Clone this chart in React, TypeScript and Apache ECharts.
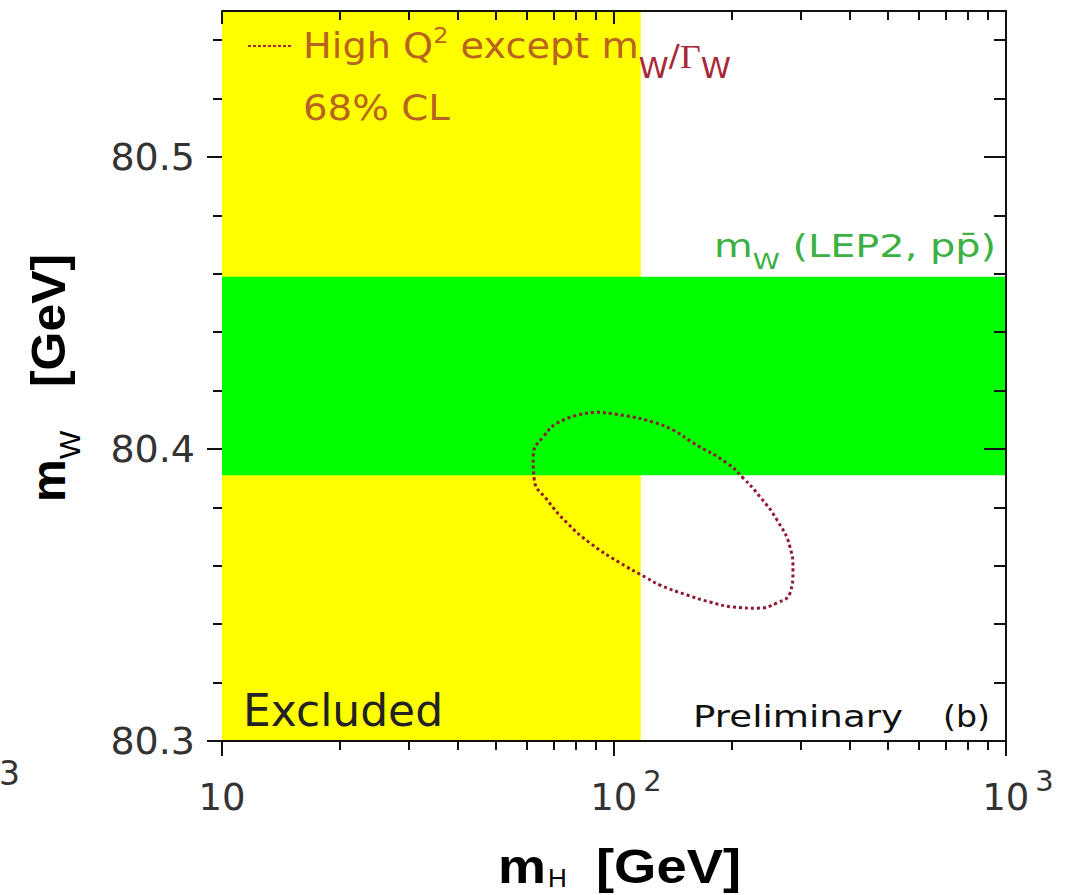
import React, { useEffect, useRef } from 'react';
import * as echarts from 'echarts';

// ---- data ----
const mHRange = [10, 1000];
const mWRange = [80.3, 80.55];
const xMajorTicks = [10, 100, 1000];
const xMinorTicks = [20, 30, 40, 50, 60, 70, 80, 90, 200, 300, 400, 500, 600, 700, 800, 900];
const yMajorTicks = [80.3, 80.4, 80.5];
const yMinorTicks = [80.32, 80.34, 80.36, 80.38, 80.42, 80.44, 80.46, 80.48, 80.52, 80.54];
const excludedMH = [10, 117];
const lep2MW = [80.391, 80.459];
const contourMH = [90.5, 108.0, 125.8, 141.4, 159.1, 194.2, 213.4, 235.8, 260.5, 281.2, 286.1, 281.2, 260.5, 231.7, 201.2, 175.8, 153.6, 131.0, 121.4, 103.6, 86.9, 75.9, 67.5, 62.6, 62.2, 65.9, 74.1, 90.5];
const contourMW = [80.4127, 80.4113, 80.4092, 80.4065, 80.4021, 80.3952, 80.3901, 80.3836, 80.3757, 80.3664, 80.3586, 80.3507, 80.3473, 80.3455, 80.3459, 80.3476, 80.35, 80.3534, 80.3558, 80.361, 80.3678, 80.3747, 80.3826, 80.3895, 80.3973, 80.4041, 80.4099, 80.4127];

const FONT = '"DejaVu Sans"';
const TFONT = '"Liberation Sans"';
const AXIS = '#111';
const LABEL = '#333';
const ORANGE = '#b8641e';
const RED = '#a8283a';
const GREENTXT = '#3cb043';
const CENTRAL = 0.3465;

type Seg = { text: string; size: number; family?: string; weight?: string; dy?: number; color: string };

function fontStr(s: { size: number; family?: string; weight?: string }) {
  return `${s.weight || 'normal'} ${s.size}px ${s.family || FONT}`;
}

export default function App() {
  const ref = useRef<HTMLDivElement>(null);
  useEffect(() => {
    if (!ref.current) return;
    const chart = echarts.init(ref.current, undefined, { renderer: 'svg' });
    const ctx = document.createElement('canvas').getContext('2d')!;
    const measure = (t: string, f: string) => {
      ctx.font = f;
      return ctx.measureText(t).width;
    };
    const line = (x0: number, baseline: number, right: number | null, segs: Seg[]) => {
      const widths = segs.map((s) => measure(s.text, fontStr(s)));
      const total = widths.reduce((a, b) => a + b, 0);
      const sx = right ? (right - x0) / total : 1;
      let cx = x0;
      return segs.map((s, i) => {
        const el = {
          type: 'text',
          x: cx,
          y: baseline + (s.dy || 0) - CENTRAL * s.size,
          scaleX: sx,
          z: 100,
          style: {
            text: s.text,
            font: fontStr(s),
            fill: s.color,
            textAlign: 'left',
            textVerticalAlign: 'middle',
            verticalAlign: 'middle',
          },
        };
        cx += widths[i] * sx;
        return el;
      });
    };
    const rtext = (text: string, x: number, y: number, size: number, weight: string, family: string, sx: number) => ({
      type: 'text',
      x,
      y,
      rotation: Math.PI / 2,
      scaleX: sx,
      z: 100,
      style: { text, font: fontStr({ size, weight, family }), fill: '#000', textAlign: 'left', textVerticalAlign: 'middle', verticalAlign: 'middle' },
    });

    const graphics: any[] = [
      {
        type: 'line',
        z: 100,
        shape: { x1: 248, y1: 46, x2: 293, y2: 46 },
        style: { stroke: RED, lineWidth: 2, lineDash: [3, 2] },
      },
      ...line(303, 58, 731, [
        { text: 'High Q', size: 35, color: ORANGE },
        { text: '2', size: 22, dy: -15, color: ORANGE },
        { text: ' except m', size: 35, color: ORANGE },
        { text: 'W', size: 28, dy: 20, color: RED },
        { text: '/', size: 30, dy: 8, color: RED },
        { text: 'Γ', size: 33, dy: 10, family: '"Liberation Serif"', color: RED },
        { text: 'W', size: 28, dy: 20, color: RED },
      ]),
      ...line(303, 120, 450, [{ text: '68% CL', size: 35, color: ORANGE }]),
      ...line(714, 257, 996, [
        { text: 'm', size: 32, color: GREENTXT },
        { text: 'W', size: 22, dy: 12, color: GREENTXT },
        { text: ' (LEP2, pp\u0304)', size: 32, color: GREENTXT },
      ]),
      ...line(243, 726, 443, [{ text: 'Excluded', size: 44, color: '#222' }]),
      ...line(693, 727, 903, [{ text: 'Preliminary', size: 31, color: '#111' }]),
      ...line(943, 727, 990, [{ text: '(b)', size: 31, color: '#111' }]),
      // bottom axis title
      ...line(498, 883, 546, [{ text: 'm', size: 48, weight: 'bold', family: TFONT, color: '#000' }]),
      ...line(548, 887, null, [{ text: 'H', size: 26, family: TFONT, color: '#000' }]),
      ...line(596, 883, 741, [{ text: '[GeV]', size: 48, weight: 'bold', family: TFONT, color: '#000' }]),
      // left axis title (vertical)
      rtext('m', 48.4, 502, 48, 'bold', TFONT, 1),
      rtext('W', 69.6, 459, 30, 'normal', TFONT, 1),
      rtext('[GeV]', 48.4, 387, 48, 'bold', TFONT, 1.04),
      // clipped exponent from neighbouring panel
      {
        type: 'text',
        x: 20,
        y: 773,
        z: 100,
        style: { text: '3', font: fontStr({ size: 33 }), fill: LABEL, textAlign: 'right', textVerticalAlign: 'middle', verticalAlign: 'middle' },
      },
    ];

    const band = (d: number[], color: string, z: number) => ({
      type: 'custom',
      xAxisIndex: 0,
      yAxisIndex: 0,
      z,
      silent: true,
      encode: { x: [0, 1], y: [2, 3] },
      data: [d],
      renderItem: (_p: any, api: any) => {
        const a = api.coord([api.value(0), api.value(2)]);
        const b = api.coord([api.value(1), api.value(3)]);
        return {
          type: 'rect',
          shape: { x: Math.min(a[0], b[0]), y: Math.min(a[1], b[1]), width: Math.abs(b[0] - a[0]), height: Math.abs(b[1] - a[1]) },
          style: { fill: color },
        };
      },
    });

    const xBase = (position: string, ticks: number[], len: number, inside: boolean, showLine: boolean, labels: boolean) => ({
      type: 'log',
      logBase: 10,
      min: mHRange[0],
      max: mHRange[1],
      position,
      z: 10,
      axisLine: { show: showLine, onZero: false, lineStyle: { color: AXIS, width: 2 } },
      axisTick: { show: true, inside, length: len, customValues: ticks, lineStyle: { color: AXIS, width: 2 } },
      minorTick: { show: false },
      splitLine: { show: false },
      minorSplitLine: { show: false },
      axisLabel: labels
        ? {
            show: true,
            customValues: xMajorTicks,
            margin: 25,
            hideOverlap: false,
            showMinLabel: true,
            showMaxLabel: true,
            formatter: (v: number) => {
              const e = Math.round(Math.log10(v));
              return e === 1 ? '{b|10}' : `{p| }{b|10}{s|${e}}`;
            },
            rich: {
              b: { fontSize: 37, fontFamily: FONT, color: LABEL, lineHeight: 37, padding: [25, 0, 0, 0] },
              s: { fontSize: 29, fontFamily: FONT, color: LABEL, lineHeight: 29, verticalAlign: 'top', padding: [0, 0, 0, 6] },
              p: { fontSize: 29, fontFamily: FONT, width: 24 },
            },
          }
        : { show: false },
    });

    const yBase = (position: string, ticks: number[], len: number, inside: boolean, showLine: boolean, labels: boolean) => ({
      type: 'value',
      min: mWRange[0],
      max: mWRange[1],
      position,
      z: 10,
      axisLine: { show: showLine, onZero: false, lineStyle: { color: AXIS, width: 2 } },
      axisTick: { show: true, inside, length: len, customValues: ticks, lineStyle: { color: AXIS, width: 2 } },
      splitLine: { show: false },
      axisLabel: labels
        ? {
            show: true,
            customValues: yMajorTicks,
            margin: 27,
            fontSize: 38,
            fontFamily: FONT,
            color: LABEL,
            formatter: (v: number) => v.toFixed(1),
          }
        : { show: false },
    });

    chart.setOption({
      animation: false,
      backgroundColor: '#fff',
      grid: { left: 222, right: 78, top: 11, bottom: 154, containLabel: false, outerBoundsMode: 'none' },
      xAxis: [
        xBase('bottom', xMajorTicks, 15, false, true, true),
        xBase('bottom', xMinorTicks, 9, false, false, false),
        xBase('top', xMajorTicks, 13, true, true, false),
        xBase('top', xMinorTicks, 9, true, false, false),
      ],
      yAxis: [
        yBase('left', yMajorTicks, 15, false, false, true),
        yBase('left', yMinorTicks, 9, false, false, false),
        yBase('right', yMajorTicks, 22, true, true, false),
        yBase('right', yMinorTicks, 12, true, false, false),
      ],
      series: [
        band([excludedMH[0], excludedMH[1], mWRange[0], mWRange[1]], '#ffff00', 1),
        band([mHRange[0], mHRange[1], lep2MW[0], lep2MW[1]], '#00ff00', 2),
        {
          type: 'line',
          xAxisIndex: 0,
          yAxisIndex: 0,
          z: 3,
          data: contourMH.map((m, i) => [m, contourMW[i]]),
          showSymbol: false,
          symbol: 'none',
          smooth: 0.5,
          lineStyle: { color: '#8e1a30', width: 3, type: [3, 3] },
        },
      ],
      graphic: { elements: graphics },
    });
    return () => chart.dispose();
  }, []);
  return <div ref={ref} style={{ position: 'absolute', left: 0, top: 0, width: 1084, height: 895, background: '#fff' }} />;
}
